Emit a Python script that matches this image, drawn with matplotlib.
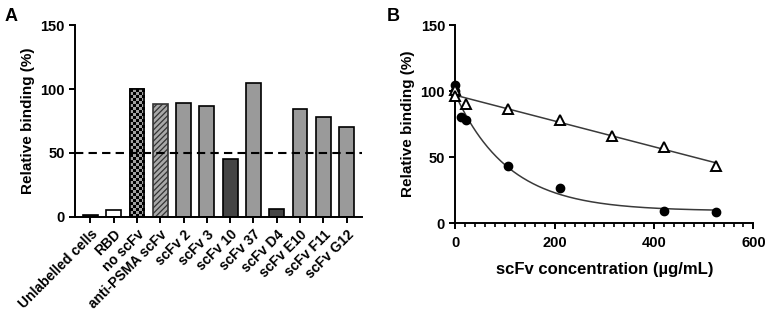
import matplotlib
matplotlib.use('Agg')
import matplotlib.pyplot as plt
import numpy as np

plt.rcParams['font.family'] = ['Liberation Sans', 'DejaVu Sans']
plt.rcParams['font.weight'] = 'bold'
plt.rcParams['hatch.linewidth'] = 0.9

# panel A data
labels_a = ['Unlabelled cells', 'RBD', 'no scFv', 'anti-PSMA scFv', 'scFv 2', 'scFv 3',
            'scFv 10', 'scFv 37', 'scFv D4', 'scFv E10', 'scFv F11', 'scFv G12']
binding_a = [1.5, 5, 100, 88, 89, 87, 45, 105, 6, 84, 78, 70]
fills_a = ['#222222', 'white', 'checker', 'hatch', '#9a9a9a', '#9a9a9a',
           '#454545', '#9a9a9a', '#454545', '#9a9a9a', '#9a9a9a', '#9a9a9a']
threshold = 50

# panel B data
conc_circ = [0, 0, 0, 10.5, 21, 105, 210, 420, 525]
bind_circ = [105, 100, 97.5, 80.5, 78, 43, 27, 9.3, 8.5]
conc_tri = [0, 0, 21, 105, 210, 315, 420, 525]
bind_tri = [100.5, 96.5, 90, 86.5, 78.5, 66, 58, 43.5]


def style_axis(ax):
    for s in ['top', 'right']:
        ax.spines[s].set_visible(False)
    for s in ['left', 'bottom']:
        ax.spines[s].set_linewidth(1.4)
    ax.tick_params(width=1.4, length=4, labelsize=10.5)
    for t in ax.get_xticklabels() + ax.get_yticklabels():
        t.set_fontweight('bold')


def fit_decay(x, y):
    # one-phase decay: y = plateau + span*exp(-k*x), grid search on k
    x = np.asarray(x, float)
    y = np.asarray(y, float)
    best = None
    for k in np.linspace(0.001, 0.1, 2000):
        A = np.column_stack([np.ones_like(x), np.exp(-k*x)])
        coef, res, _, _ = np.linalg.lstsq(A, y, rcond=None)
        err = np.sum((A @ coef - y)**2)
        if best is None or err < best[0]:
            best = (err, k, coef)
    return best[1], best[2]


fig = plt.figure(figsize=(7.68, 3.18), dpi=100)

# ---- panel A ----
ax = fig.add_axes([0.098, 0.318, 0.373, 0.603])
xpos = np.arange(len(labels_a))
width = 0.64
for i, (v, f) in enumerate(zip(binding_a, fills_a)):
    if f == 'checker':
        b = ax.bar(xpos[i], v, width, color='#999999', edgecolor='black', linewidth=1.2, zorder=2)[0]
        nr, nc = 43, 5
        chk = (np.add.outer(np.arange(nr), np.arange(nc)) % 2).astype(float)
        im = ax.imshow(chk, cmap='gray', vmin=0, vmax=1.6, interpolation='nearest',
                       extent=[xpos[i]-width/2, xpos[i]+width/2, 0, v], aspect='auto', zorder=2.5)
        im.set_clip_path(b)
        ax.bar(xpos[i], v, width, color='none', edgecolor='black', linewidth=1.2, zorder=3)
    elif f == 'hatch':
        ax.bar(xpos[i], v, width, color='#a8a8a8', edgecolor='#333333', hatch='//////',
               linewidth=1.2, zorder=2)
    else:
        ax.bar(xpos[i], v, width, color=f, edgecolor='black', linewidth=1.2, zorder=2)
ax.axhline(threshold, color='black', linestyle=(0, (4, 2.5)), linewidth=1.5, zorder=4)
ax.set_xlim(-0.65, 11.65)
ax.set_ylim(0, 150)
ax.set_yticks([0, 50, 100, 150])
ax.set_xticks(xpos)
ax.set_xticklabels(labels_a, rotation=45, ha='right', rotation_mode='anchor')
ax.set_ylabel('Relative binding (%)', fontsize=11, fontweight='bold')
style_axis(ax)
ax.tick_params(axis='x', labelsize=10)
fig.text(0.006, 0.975, 'A', fontsize=13, fontweight='bold', va='top')

# ---- panel B ----
bx = fig.add_axes([0.593, 0.298, 0.388, 0.623])
k, coef = fit_decay(conc_circ, bind_circ)
xs = np.linspace(0, max(conc_circ), 300)
bx.plot(xs, coef[0] + coef[1]*np.exp(-k*xs), color='#3a3a3a', linewidth=1.1, zorder=2)
p = np.polyfit(conc_tri, bind_tri, 1)
xl = np.array([0, max(conc_tri)])
bx.plot(xl, np.polyval(p, xl), color='#3a3a3a', linewidth=1.1, zorder=2)
bx.plot(conc_circ, bind_circ, 'o', color='black', markersize=6, clip_on=False, zorder=3)
bx.plot(conc_tri, bind_tri, '^', markerfacecolor='white', markeredgecolor='black',
        markeredgewidth=1.4, markersize=7, clip_on=False, zorder=3)
bx.set_xlim(0, 600)
bx.set_ylim(0, 150)
bx.set_yticks([0, 50, 100, 150])
bx.set_xticks([0, 200, 400, 600])
bx.set_xticks(np.arange(0, 601, 20), minor=True)
bx.tick_params(axis='x', which='minor', length=3, width=1.2)
bx.set_xlabel('scFv concentration (µg/mL)', fontsize=12, fontweight='bold', labelpad=9)
bx.set_ylabel('Relative binding (%)', fontsize=11, fontweight='bold')
style_axis(bx)
bx.tick_params(axis='x', which='major', pad=5)
fig.text(0.503, 0.975, 'B', fontsize=13, fontweight='bold', va='top')

fig.savefig('out.png', dpi=100)
